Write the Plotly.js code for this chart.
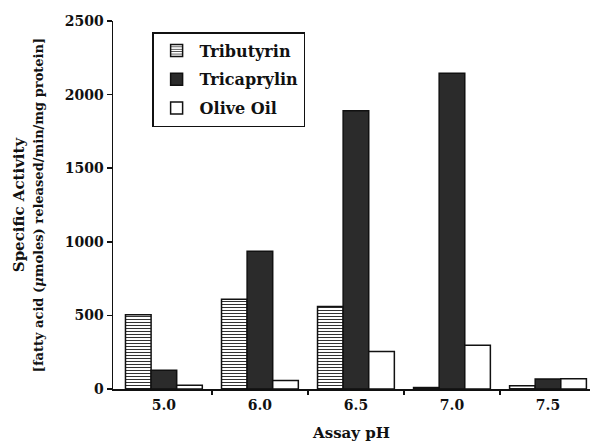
<!DOCTYPE html>
<html>
<head>
<meta charset="utf-8">
<script src="https://cdn.plot.ly/plotly-3.0.1.min.js"></script>
<style>html,body{margin:0;padding:0;background:#fff;}#chart{width:590px;height:444px;}</style>
</head>
<body>
<div id="chart"></div>
<script>
// Data
const phLabels = ["5.0", "6.0", "6.5", "7.0", "7.5"];
const phPositions = [0, 1, 2, 3, 4];
const tributyrin = [505, 610, 560, 10, 22];
const tricaprylin = [127, 935, 1890, 2145, 68];
const oliveOil = [25, 57, 255, 298, 70];
const seriesNames = ["Tributyrin", "Tricaprylin", "Olive Oil"];
const yTicks = [0, 500, 1000, 1500, 2000, 2500];
const groupBoundaries = [0.5, 1.5, 2.5, 3.5];

const FONT = "DejaVu Serif";
const line = {color: "#111", width: 1.5};

const traces = [
  {
    type: "bar", name: seriesNames[0], x: phPositions, y: tributyrin,
    legendgroup: "a",
    marker: {color: "#fff", line: line,
      pattern: {shape: "-", fgcolor: "#333", bgcolor: "#fff", size: 3, solidity: 0.35}}
  },
  {
    type: "bar", name: seriesNames[1], x: phPositions, y: tricaprylin,
    legendgroup: "b",
    marker: {color: "#2b2b2b", line: line}
  },
  {
    type: "bar", name: seriesNames[2], x: phPositions, y: oliveOil,
    legendgroup: "c",
    marker: {color: "#fff", line: line}
  }
];

const layout = {
  width: 590, height: 444,
  margin: {l: 113, r: 0, t: 21, b: 55},
  paper_bgcolor: "#fff", plot_bgcolor: "#fff",
  font: {family: FONT, color: "#111", size: 14, weight: "bold"},
  barmode: "group", bargap: 0.2, bargroupgap: 0,
  showlegend: true,
  legend: {
    x: 0.082, y: 0.97, xanchor: "left", yanchor: "top",
    bgcolor: "#fff", bordercolor: "#111", borderwidth: 1.5,
    font: {family: FONT, size: 16, weight: "bold", color: "#111"},
    traceorder: "grouped", tracegroupgap: 5, itemwidth: 36
  },
  xaxis: {
    range: [-0.53, 4.4375],
    tickvals: phPositions, ticktext: phLabels,
    ticks: "", showgrid: false, zeroline: false,
    showline: true, linecolor: "#111", linewidth: 1.5,
    ticklabelstandoff: 3,
    tickfont: {family: FONT, size: 14, weight: "bold"},
    minor: {tickvals: groupBoundaries, ticks: "outside", ticklen: 4, tickwidth: 1.5, tickcolor: "#111", showgrid: false},
    title: {text: "Assay pH", font: {family: FONT, size: 15, weight: "bold"}, standoff: 15}
  },
  yaxis: {
    range: [0, 2500],
    tickvals: yTicks,
    ticks: "outside", ticklen: 5, tickwidth: 1.5, tickcolor: "#111",
    showgrid: false, zeroline: false,
    showline: true, linecolor: "#111", linewidth: 1.5,
    tickfont: {family: FONT, size: 14, weight: "bold"},
    title: {
      text: "Specific Activity<br><span style=\"font-size:13px\">[fatty acid (<i>μ</i>moles) released/min/mg protein]</span>",
      font: {family: FONT, size: 15, weight: "bold"}, standoff: 17
    }
  }
};

Plotly.newPlot("chart", traces, layout, {staticPlot: true, displayModeBar: false});
</script>
</body>
</html>
